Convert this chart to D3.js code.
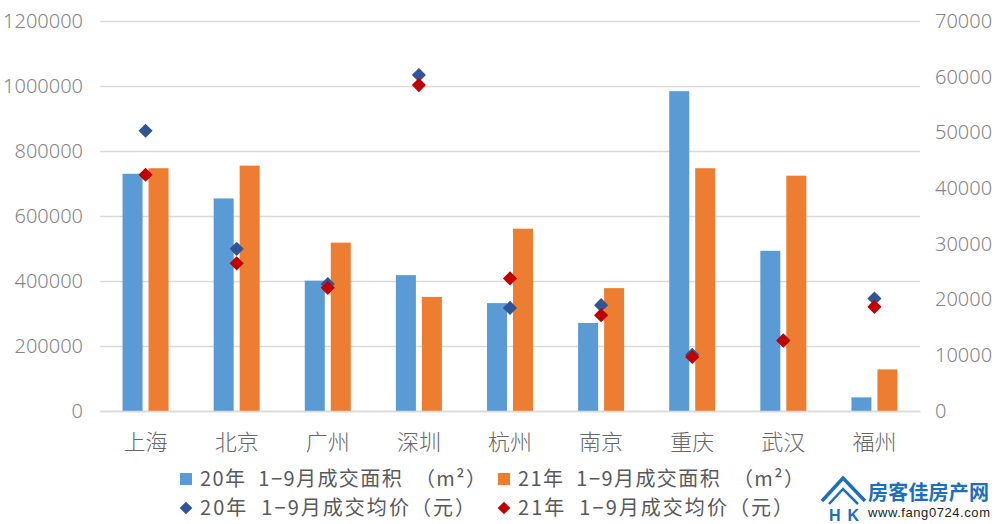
<!DOCTYPE html>
<html>
<head>
<meta charset="utf-8">
<script src="https://cdn.jsdelivr.net/npm/d3@7"></script>
<style>
  body { margin: 0; background: #fff; }
  svg { display: block; }
</style>
</head>
<body>
<svg id="svg"></svg>
<script>
// 数据
const categories = ['上海', '北京', '广州', '深圳', '杭州', '南京', '重庆', '武汉', '福州'];
const area20 = [730000, 654000, 401000, 418000, 332000, 271000, 984000, 493000, 42000];
const area21 = [747000, 755000, 518000, 351000, 561000, 378000, 747000, 724000, 128000];
const price20 = [50300, 29100, 22800, 60300, 18500, 19000, 10100, 12700, 20200];
const price21 = [42400, 26500, 22100, 58500, 23800, 17200, 9700, 12600, 18700];
const leftTicks = [0, 200000, 400000, 600000, 800000, 1000000, 1200000];
const rightTicks = [0, 10000, 20000, 30000, 40000, 50000, 60000, 70000];
const legendLabels = [
  '20年  1−9月成交面积  （m²）',
  '21年  1−9月成交面积  （m²）',
  '20年  1−9月成交均价（元）',
  '21年  1−9月成交均价（元）'
];

const W = 1000, H = 524;
const plotLeft = 100, plotRight = 920, plotTop = 21, plotBottom = 411;
const colors = { a20: '#5B9BD5', a21: '#ED7D31', p20: '#2F5597', p21: '#C00000' };

const svg = d3.select('#svg')
  .attr('width', W)
  .attr('height', H);

const x0 = d3.scaleBand().domain(categories).range([plotLeft, plotRight]).padding(0);
const x1 = d3.scaleBand().domain(['a20', 'a21'])
  .range([x0.bandwidth() / 2 - 23, x0.bandwidth() / 2 + 23])
  .paddingInner(0.23);
const yL = d3.scaleLinear().domain([0, 1200000]).range([plotBottom, plotTop]);
const yR = d3.scaleLinear().domain([0, 70000]).range([plotBottom, plotTop]);

// 左轴 + 网格线
const gL = svg.append('g')
  .attr('transform', 'translate(' + plotLeft + ',0)')
  .call(d3.axisLeft(yL).tickValues(leftTicks).tickSize(-(plotRight - plotLeft)).tickPadding(17).tickFormat(d3.format('d')));
gL.select('.domain').remove();
gL.selectAll('line').attr('stroke', '#d9d9d9').attr('stroke-width', 1.5);
gL.selectAll('text')
  .attr('fill', '#858585')
  .style('font-family', '"Noto Sans", sans-serif')
  .style('font-weight', '300')
  .style('font-size', '20px');

// 右轴
const gR = svg.append('g')
  .attr('transform', 'translate(' + plotRight + ',0)')
  .call(d3.axisRight(yR).tickValues(rightTicks).tickSize(0).tickPadding(15).tickFormat(d3.format('d')));
gR.select('.domain').remove();
gR.selectAll('text')
  .attr('fill', '#858585')
  .style('font-family', '"Noto Sans", sans-serif')
  .style('font-weight', '300')
  .style('font-size', '20px');

// 柱子
const rows = categories.map((c, i) => ({ c: c, a20: area20[i], a21: area21[i], p20: price20[i], p21: price21[i] }));

const groups = svg.append('g')
  .selectAll('g')
  .data(rows)
  .enter()
  .append('g')
  .attr('transform', d => 'translate(' + x0(d.c) + ',0)');

groups.selectAll('rect')
  .data(d => ['a20', 'a21'].map(k => ({ k: k, v: d[k] })))
  .enter()
  .append('rect')
  .attr('x', d => x1(d.k))
  .attr('width', x1.bandwidth())
  .attr('y', d => yL(d.v))
  .attr('height', d => plotBottom - yL(d.v))
  .attr('fill', d => colors[d.k]);

// 底部轴
const gB = svg.append('g')
  .attr('transform', 'translate(0,' + plotBottom + ')')
  .call(d3.axisBottom(x0).tickSize(0).tickPadding(23));
gB.select('.domain').attr('stroke', '#d9d9d9').attr('stroke-width', 1.5);
gB.selectAll('text')
  .attr('fill', '#666')
  .style('font-family', '"Noto Sans CJK SC", sans-serif')
  .style('font-weight', '300')
  .style('font-size', '22px');

// 菱形 (均价)
const diamond = d3.symbol().type(d3.symbolSquare).size(100);
['p20', 'p21'].forEach(k => {
  svg.append('g')
    .selectAll('path')
    .data(rows)
    .enter()
    .append('path')
    .attr('d', diamond)
    .attr('transform', d => 'translate(' + (x0(d.c) + x0.bandwidth() / 2) + ',' + yR(d[k]) + ') rotate(45)')
    .attr('fill', colors[k]);
});

// 图例
const legend = [
  { key: 'a20', x: 180, y: 479, shape: 'rect' },
  { key: 'a21', x: 498, y: 479, shape: 'rect' },
  { key: 'p20', x: 180, y: 508, shape: 'diamond' },
  { key: 'p21', x: 498, y: 508, shape: 'diamond' }
];
const legendWidths = [286, 286, 275, 275];

const lg = svg.append('g')
  .selectAll('g')
  .data(legend)
  .enter()
  .append('g')
  .attr('transform', d => 'translate(' + d.x + ',' + d.y + ')');

lg.filter(d => d.shape === 'rect')
  .append('rect')
  .attr('x', 0).attr('y', -6)
  .attr('width', 12).attr('height', 12)
  .attr('fill', d => colors[d.key]);

lg.filter(d => d.shape === 'diamond')
  .append('path')
  .attr('d', d3.symbol().type(d3.symbolSquare).size(80))
  .attr('transform', 'translate(6,0) rotate(45)')
  .attr('fill', d => colors[d.key]);

lg.append('text')
  .attr('x', 20)
  .attr('y', 7)
  .attr('textLength', (d, i) => legendWidths[i])
  .attr('lengthAdjust', 'spacing')
  .attr('fill', '#595959')
  .style('font-family', '"Noto Sans CJK SC", sans-serif')
  .style('font-size', '20px')
  .style('white-space', 'pre')
  .text((d, i) => legendLabels[i]);

// 水印
const wm = svg.append('g');
wm.append('polyline')
  .attr('points', '822,501 843,478 865,501')
  .attr('fill', 'none').attr('stroke', '#1C6EBF').attr('stroke-width', 3.5);
wm.append('polyline')
  .attr('points', '829,504 843,489 858,504')
  .attr('fill', 'none').attr('stroke', '#1C6EBF').attr('stroke-width', 2.5);
wm.append('text')
  .attr('x', 829).attr('y', 521)
  .attr('textLength', 30)
  .attr('fill', '#1C6EBF')
  .style('font-family', '"Liberation Sans", sans-serif')
  .style('font-size', '16px')
  .style('font-weight', 'bold')
  .text('HK');
wm.append('text')
  .attr('x', 868).attr('y', 500)
  .attr('textLength', 121)
  .attr('fill', '#1C6EBF')
  .style('font-family', '"Noto Sans CJK SC", sans-serif')
  .style('font-size', '20px')
  .style('font-weight', 'bold')
  .text('房客佳房产网');
wm.append('text')
  .attr('x', 868).attr('y', 517)
  .attr('textLength', 122)
  .attr('fill', '#222')
  .style('font-family', '"Liberation Sans", sans-serif')
  .style('font-size', '13px')
  .text('www.fang0724.com');
</script>
</body>
</html>
